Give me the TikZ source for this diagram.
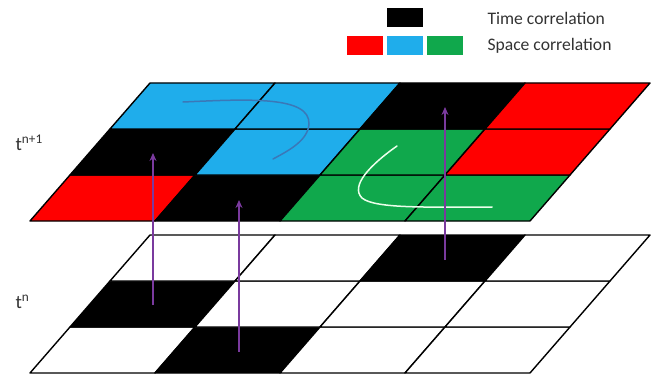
\documentclass[tikz,border=0pt]{standalone}
\usepackage{fontspec}
\setmainfont{Carlito}
\usetikzlibrary{arrows.meta}

\definecolor{cred}{HTML}{FF0000}
\definecolor{cblue}{HTML}{1FADEB}
\definecolor{cgreen}{HTML}{10A84C}
\definecolor{cpurple}{HTML}{7A3A9E}
\definecolor{cline}{HTML}{3A78B8}
\definecolor{ctext}{HTML}{333333}

\begin{document}
\begin{tikzpicture}[
	x=1pt, y=-1pt,
	cell/.style={draw=black, line width=1.4pt, line join=round},
	legbox/.style={rectangle, minimum width=36pt, minimum height=19pt, inner sep=0pt},
	legtext/.style={anchor=west, text=ctext, font=\fontsize{17.6}{20}\selectfont},
	layer/.style={anchor=base west, text=ctext, font=\fontsize{19}{21}\selectfont},
	timearrow/.style={draw=cpurple, line width=1.6pt, -{Stealth[length=8pt,width=7pt]}},
	spacecurve/.style={line width=1.5pt, line cap=round}
]
\useasboundingbox (0,0) rectangle (660,374);

% legend
\node[legbox, fill=black] (ltime) at (405,17.5) {};
\node[legbox, fill=cred] (lred) at (365,46) {};
\node[legbox, fill=cblue] (lblue) at (405,46) {};
\node[legbox, fill=cgreen] (lgreen) at (445,46) {};
\node[legtext] (ttime) at (484,18) {Time correlation};
\node[legtext] (tspace) at (484,46) {Space correlation};

% layer t^{n+1}
\begin{scope}[shift={(30,221)}, x={(125pt,0pt)}, y={(40pt,46pt)}]
\foreach \r/\row in {0/{cred,black,cgreen,cgreen},1/{black,cblue,cgreen,cred},2/{cblue,cblue,black,cred}}
	\foreach \col [count=\c from 0] in \row
		\filldraw[cell, fill=\col] (\c,\r) -- ++(1,0) -- ++(0,1) -- ++(-1,0) -- cycle;
\end{scope}

% layer t^n
\begin{scope}[shift={(30,373)}, x={(125pt,0pt)}, y={(40pt,46pt)}]
\foreach \r/\row in {0/{white,black,white,white},1/{black,white,white,white},2/{white,white,black,white}}
	\foreach \col [count=\c from 0] in \row
		\filldraw[cell, fill=\col] (\c,\r) -- ++(1,0) -- ++(0,1) -- ++(-1,0) -- cycle;
\end{scope}

\node[layer] (tnext) at (12,150) {t\textsuperscript{n+1}};
\node[layer] (tnow) at (12,308) {t\textsuperscript{n}};

% space correlation paths
\draw[spacecurve, cline] (183,102) .. controls (250,99) and (310,96) .. (309,124)
	.. controls (308,140) and (290,150) .. (273,159);
\draw[spacecurve, white!92!green] (397,146) .. controls (370,165) and (350,186) .. (362,198)
	.. controls (375,209) and (430,207) .. (492,207);

% time correlation arrows
\coordinate (s1) at (153,305);
\coordinate (e1) at (153,153);
\coordinate (s2) at (239,352);
\coordinate (e2) at (239,200);
\coordinate (s3) at (445,260);
\coordinate (e3) at (445,107);
\draw[timearrow] (s1) -- (e1);
\draw[timearrow] (s2) -- (e2);
\draw[timearrow] (s3) -- (e3);
\end{tikzpicture}
\end{document}
